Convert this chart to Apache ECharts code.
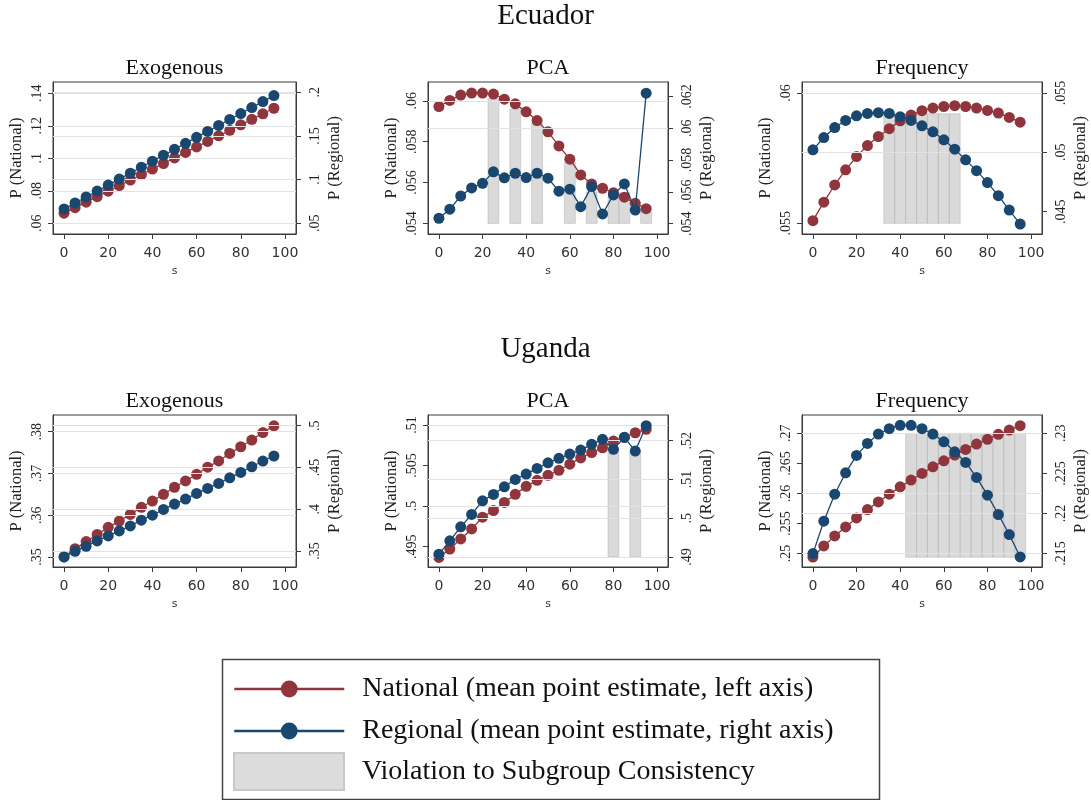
<!DOCTYPE html>
<html><head><meta charset="utf-8">
<script src="https://cdn.jsdelivr.net/npm/echarts@6.0.0/dist/echarts.min.js"></script>
<style>html,body{margin:0;padding:0;background:#fff}#c{width:1091px;height:800px}</style>
</head><body><div id="c"></div><script>
// ---------------- DATA ----------------
const sValues = [0,5,10,15,20,25,30,35,40,45,50,55,60,65,70,75,80,85,90,95];
const xTicks = [0,20,40,60,80,100];

const countryTitles = ['Ecuador','Uganda'];
const panelTitles = ['Exogenous','PCA','Frequency'];
const NAT = 'National (mean point estimate, left axis)';
const REG = 'Regional (mean point estimate, right axis)';
const VIO = 'Violation to Subgroup Consistency';

// Ecuador - Exogenous
const ecExoNat = [.0662,.0696,.0730,.0764,.0798,.0832,.0866,.0900,.0934,.0968,.1002,.1036,.1070,.1104,.1138,.1172,.1206,.1240,.1274,.1308];
const ecExoReg = [.0664,.0732,.0801,.0869,.0937,.1006,.1074,.1142,.1211,.1279,.1347,.1416,.1484,.1552,.1620,.1689,.1757,.1825,.1894,.1962];
const ecExoTicksL = [.06,.08,.1,.12,.14];
const ecExoTicksR = [.05,.1,.15,.2];

// Ecuador - PCA
const ecPcaNat = [.05972,.06002,.06028,.06038,.06038,.06033,.06008,.05985,.05946,.05903,.05848,.05779,.05714,.05637,.05593,.05572,.0555,.05528,.05498,.05472];
const ecPcaReg = [.05434,.05491,.05574,.05625,.05654,.05726,.05688,.05717,.0569,.05717,.05686,.05604,.05617,.05507,.05633,.05461,.05581,.0565,.05486,.06221];
const ecPcaTicksL = [.054,.056,.058,.06];
const ecPcaTicksR = [.054,.056,.058,.06,.062];
const ecPcaViolS = [25,35,45,60,70,80,85,95];
const ecPcaViolTop = [.0601,.0596,.0589,.0570,.05555,.0553,.0555,.05457];
const ecPcaViolBase = .054;

// Ecuador - Frequency
const ecFreqNat = [.0551,.05581,.05647,.05705,.05756,.05798,.05833,.05863,.05893,.05915,.05932,.05942,.05948,.05951,.05948,.05942,.05933,.05923,.05906,.05888];
const ecFreqReg = [.05021,.05125,.05209,.05269,.05308,.05328,.05334,.05328,.0530,.05269,.05224,.05173,.05106,.05027,.04937,.04846,.04745,.04635,.04514,.04396];
const ecFreqTicksL = [.055,.06];
const ecFreqTicksR = [.045,.05,.055];
const ecFreqViolS = [35,40,45,50,55,60,65];
const ecFreqViolTop = [.0592,.0592,.0592,.0592,.0592,.0592,.0592];
const ecFreqViolBase = .055;

// Uganda - Exogenous
const ugExoNat = [.35,.352,.3537,.3554,.3571,.3586,.3602,.3619,.3634,.365,.3667,.3682,.3698,.3715,.373,.3748,.3764,.378,.3798,.3814];
const ugExoReg = [.3428,.3496,.3556,.362,.368,.374,.38,.3869,.3929,.3997,.4061,.4121,.4189,.4249,.4309,.4376,.4441,.4508,.4577,.4637];
const ugExoTicksL = [.35,.36,.37,.38];
const ugExoTicksR = [.35,.4,.45,.5];

// Uganda - PCA
const ugPcaNat = [.49367,.49471,.49595,.49719,.49863,.49946,.50045,.50145,.50244,.50318,.5038,.50442,.50517,.50595,.50661,.50719,.50802,.50847,.50905,.50947];
const ugPcaReg = [.4907,.49414,.49776,.50096,.50448,.50614,.5081,.51002,.51139,.51286,.51431,.51545,.51656,.51759,.51907,.52036,.51778,.52088,.51733,.52388];
const ugPcaTicksL = [.495,.5,.505,.51];
const ugPcaTicksR = [.49,.5,.51,.52];
const ugPcaViolS = [80,90];
const ugPcaViolTop = [.5178,.5173];   // right axis
const ugPcaViolBase = .49;            // right axis

// Uganda - Frequency
const ugFreqNat = [.24943,.25127,.25293,.25443,.25593,.25733,.2586,.25988,.2611,.26222,.26333,.26443,.26543,.26638,.26733,.26822,.269,.26983,.27055,.27127];
const ugFreqReg = [.215,.21904,.22241,.22508,.22725,.22875,.22991,.23058,.231,.231,.23058,.22991,.22895,.2277,.22638,.2245,.22229,.21988,.21738,.21458];
const ugFreqTicksL = [.25,.255,.26,.265,.27];
const ugFreqTicksR = [.215,.22,.225,.23];
const ugFreqViolS = [45,50,55,60,65,70,75,80,85,90,95];
const ugFreqViolTop = [.27,.27,.27,.27,.27,.27,.27,.27,.27,.27,.27];
const ugFreqViolBase = .2494;

// ---------------- LAYOUT / STYLE ----------------
const RED = '#90353b', BLUE = '#1a476f';
const AX = '#3a3a3a';
const SERIF = 'Liberation Serif';
const SANS = 'DejaVu Sans';

const panels = [
  {t:0, g:{left:53,top:82,width:243,height:152}, nat:ecExoNat, reg:ecExoReg, tl:ecExoTicksL, tr:ecExoTicksR, lr:[.05342,.14695], rr:[.0377,.2118]},
  {t:1, g:{left:428,top:82,width:240,height:152}, nat:ecPcaNat, reg:ecPcaReg, tl:ecPcaTicksL, tr:ecPcaTicksR, lr:[.05348,.06092], rr:[.05335,.06291],
     viol:{s:ecPcaViolS, top:ecPcaViolTop, base:ecPcaViolBase, axis:0}},
  {t:2, g:{left:802,top:82,width:240,height:152}, nat:ecFreqNat, reg:ecFreqReg, tl:ecFreqTicksL, tr:ecFreqTicksR, lr:[.05459,.06042], rr:[.04312,.05593],
     viol:{s:ecFreqViolS, top:ecFreqViolTop, base:ecFreqViolBase, axis:0}},
  {t:0, g:{left:53,top:415,width:243,height:152}, nat:ugExoNat, reg:ugExoReg, tl:ugExoTicksL, tr:ugExoTicksR, lr:[.3476,.384], rr:[.3308,.5128]},
  {t:1, g:{left:428,top:415,width:240,height:152}, nat:ugPcaNat, reg:ugPcaReg, tl:ugPcaTicksL, tr:ugPcaTicksR, lr:[.49249,.51124], rr:[.48739,.52665],
     viol:{s:ugPcaViolS, top:ugPcaViolTop, base:ugPcaViolBase, axis:1}},
  {t:2, g:{left:802,top:415,width:240,height:152}, nat:ugFreqNat, reg:ugFreqReg, tl:ugFreqTicksL, tr:ugFreqTicksR, lr:[.24777,.27305], rr:[.21333,.23229],
     viol:{s:ugFreqViolS, top:ugFreqViolTop, base:ugFreqViolBase, axis:0}}
];

const fmt = v => String(+(+v).toFixed(4)).replace(/^0\./,'.');

const grids=[], xAxes=[], yAxes=[], series=[], titles=[];
titles.push({text:countryTitles[0], left:'center', top:2, padding:0, textStyle:{fontFamily:SERIF,fontSize:29,fontWeight:'normal',color:'#111'}});
titles.push({text:countryTitles[1], left:'center', top:335, padding:0, textStyle:{fontFamily:SERIF,fontSize:29,fontWeight:'normal',color:'#111'}});

panels.forEach((p,i)=>{
  grids.push(Object.assign({show:true, borderColor:AX, borderWidth:1, backgroundColor:'transparent'}, p.g));
  titles.push({text:panelTitles[p.t], left:p.g.left+p.g.width/2, textAlign:'center', top:p.g.top-25, padding:0,
    textStyle:{fontFamily:SERIF,fontSize:22,fontWeight:'normal',color:'#111'}});
  xAxes.push({gridIndex:i, type:'value', min:-5, max:105,
    axisLine:{onZero:false, lineStyle:{color:AX}},
    axisTick:{length:5, customValues:xTicks, lineStyle:{color:AX}},
    axisLabel:{customValues:xTicks, fontFamily:SANS, fontSize:14, color:'#333', margin:12},
    splitLine:{show:false},
    name:'s', nameLocation:'middle', nameGap:32, nameTextStyle:{fontFamily:SANS,fontSize:11,color:'#333'}});
  const yBase = {gridIndex:i, type:'value', splitLine:{show:false},
    axisLine:{show:true, onZero:false, lineStyle:{color:AX}}};
  yAxes.push(Object.assign({}, yBase, {position:'left', min:p.lr[0], max:p.lr[1],
    axisTick:{show:true, length:5, customValues:p.tl, lineStyle:{color:AX}},
    axisLabel:{rotate:90, customValues:p.tl, formatter:fmt, fontFamily:SERIF, fontSize:14, color:'#222', margin:9},
    name:'P (National)', nameLocation:'middle', nameRotate:90, nameGap:28,
    nameTextStyle:{fontFamily:SERIF,fontSize:16.5,color:'#222'}}));
  yAxes.push(Object.assign({}, yBase, {position:'right', min:p.rr[0], max:p.rr[1],
    axisTick:{show:true, length:5, customValues:p.tr, lineStyle:{color:AX}},
    axisLabel:{rotate:90, customValues:p.tr, formatter:fmt, fontFamily:SERIF, fontSize:14, color:'#222', margin:12},
    name:'P (Regional)', nameLocation:'middle', nameRotate:90, nameGap:30,
    nameTextStyle:{fontFamily:SERIF,fontSize:16.5,color:'#222'}}));
  const yl = 2*i, yr = 2*i+1;
  // gridlines at both axes' ticks
  [[yl,p.tl],[yr,p.tr]].forEach(([ya,ticks])=>{
    series.push({type:'line', xAxisIndex:i, yAxisIndex:ya, data:[], silent:true, z:1,
      markLine:{silent:true, symbol:'none', animation:false, label:{show:false},
        lineStyle:{color:'#e2e2e2', width:1.2, type:'solid'}, emphasis:{disabled:true},
        data:ticks.map(v=>({yAxis:v}))}});
  });
  if (p.viol){
    series.push({type:'custom', name:VIO, xAxisIndex:i, yAxisIndex:p.viol.axis===0?yl:yr, z:2, silent:true,
      itemStyle:{color:'#dcdcdc', borderColor:'#c8c8c8', borderWidth:1},
      data:p.viol.s.map((s,k)=>[s, p.viol.base, p.viol.top[k]]),
      renderItem:function(params, api){
        const s=api.value(0), lo=api.value(1), hi=api.value(2);
        const a=api.coord([s-2.5, lo]), b=api.coord([s+2.5, hi]);
        return {type:'rect', shape:{x:a[0], y:b[1], width:b[0]-a[0], height:a[1]-b[1]},
          style:{fill:'rgba(200,200,200,0.68)', stroke:'rgba(175,175,175,0.6)', lineWidth:0.8}};
      }});
  }
  series.push({type:'line', name:NAT, xAxisIndex:i, yAxisIndex:yl, z:4,
    data:sValues.map((s,k)=>[s,p.nat[k]]), symbol:'circle', symbolSize:11, showSymbol:true,
    itemStyle:{color:RED}, lineStyle:{color:RED, width:1.3}});
  series.push({type:'line', name:REG, xAxisIndex:i, yAxisIndex:yr, z:5,
    data:sValues.map((s,k)=>[s,p.reg[k]]), symbol:'circle', symbolSize:11, showSymbol:true,
    itemStyle:{color:BLUE}, lineStyle:{color:BLUE, width:1.3}});
});

const legTxt = {fontFamily:SERIF, fontSize:28, color:'#111', padding:[0,0,0,13]};
const option = {
  animation:false,
  backgroundColor:'#fff',
  title:titles, grid:grids, xAxis:xAxes, yAxis:yAxes, series:series,
  legend:[
    {data:[NAT], left:233, top:675, padding:0, itemWidth:110, itemHeight:21, selectedMode:false, textStyle:legTxt, lineStyle:{width:2.5}},
    {data:[REG], left:233, top:717, padding:0, itemWidth:110, itemHeight:21, selectedMode:false, textStyle:legTxt, lineStyle:{width:2.5}},
    {data:[{name:VIO, icon:'rect'}], left:233, top:752, padding:0, itemWidth:110, itemHeight:37, selectedMode:false, textStyle:legTxt}
  ],
  graphic:[{type:'rect', left:220, top:657, shape:{width:657, height:140}, style:{fill:'none', stroke:'#444', lineWidth:1.5}, silent:true}]
};
const chart = echarts.init(document.getElementById('c'), null, {renderer:'canvas'});
chart.setOption(option);
</script></body></html>
